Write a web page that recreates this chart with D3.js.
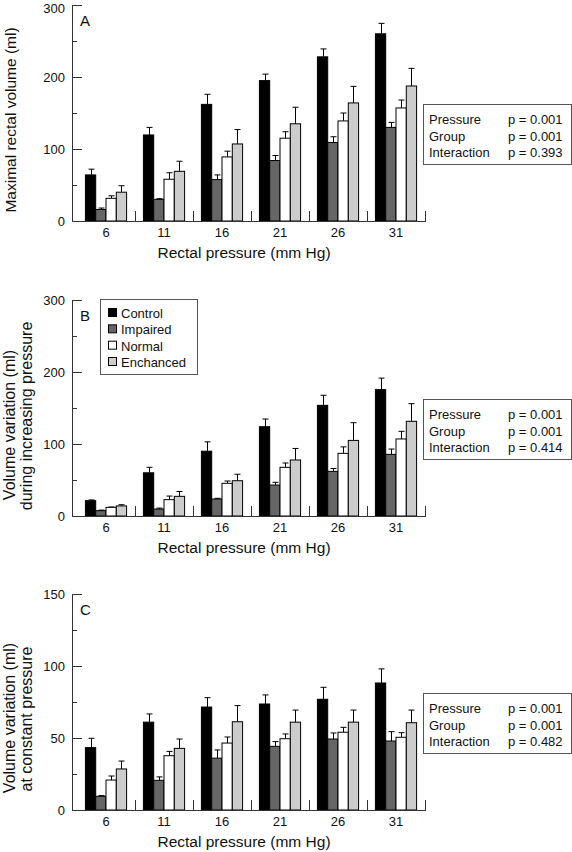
<!DOCTYPE html>
<html>
<head>
<meta charset="utf-8">
<script src="https://cdn.jsdelivr.net/npm/d3@7/dist/d3.min.js"></script>
<style>
  html, body { margin: 0; padding: 0; background: #fff; }
  svg { display: block; font-family: "Liberation Sans", Arial, Helvetica, sans-serif; }
</style>
</head>
<body>
<svg id="chart" width="572" height="852"></svg>
<script>
// ---------- DATA ----------
const categories = ["6", "11", "16", "21", "26", "31"];
const groups = ["Control", "Impaired", "Normal", "Enchanced"];
const xAxisTitle = "Rectal pressure (mm Hg)";

// Panel A: maximal rectal volume (ml) — means per group (rows) across pressures
const aMeans = [
  [64, 119.5, 162, 195, 228, 260],
  [16, 30, 57.5, 84, 109, 130],
  [31.5, 58, 89, 115, 139, 157],
  [40, 69, 107, 135, 164, 187.5]
];
const aErrors = [
  [8, 10.5, 14, 9, 11, 14.5],
  [2, 1, 6.5, 7, 8, 7],
  [3.5, 9, 8, 9, 11, 11],
  [9, 14, 20, 23, 23, 24.5]
];
// Panel B: volume variation during increasing pressure (ml)
const bMeans = [
  [21.3, 60, 90, 124, 153.7, 175.5],
  [7.4, 9.7, 23.6, 43, 62, 85.6],
  [12, 22.7, 45.4, 67.6, 87, 107],
  [14, 27.3, 49, 77.8, 105, 131.5]
];
const bErrors = [
  [1, 7.6, 13, 10.7, 14, 16],
  [0.8, 1.3, 1, 3.8, 4, 7.4],
  [0.5, 5, 3.2, 6, 9, 10.6],
  [1.7, 6.7, 9, 16, 24.6, 24.5]
];
// Panel C: volume variation at constant pressure (ml)
const cMeans = [
  [43.3, 61, 71.5, 73.6, 76.9, 88.2],
  [9.5, 20.6, 36, 44.2, 49.3, 47.9],
  [20.8, 37.7, 46.5, 49.5, 54, 50.5],
  [28.5, 42.8, 61.3, 61, 61, 60.6]
];
const cErrors = [
  [6.5, 5.7, 6.5, 6.3, 8.3, 9.8],
  [0.5, 2.4, 5.7, 3.3, 4.2, 6.5],
  [2.8, 3, 4.2, 3.3, 3.4, 3.2],
  [5.5, 6.5, 11.2, 8.4, 8.4, 8.8]
];

const statLabels = ["Pressure", "Group", "Interaction"];
const aStats = ["p = 0.001", "p = 0.001", "p = 0.393"];
const bStats = ["p = 0.001", "p = 0.001", "p = 0.414"];
const cStats = ["p = 0.001", "p = 0.001", "p = 0.482"];

const aTicks = [0, 50, 100, 150, 200, 250, 300];
const aLabelTicks = [0, 100, 200, 300];
const bTicks = [0, 50, 100, 150, 200, 250, 300];
const bLabelTicks = [0, 100, 200, 300];
const cTicks = [0, 25, 50, 75, 100, 125, 150];
const cLabelTicks = [0, 50, 100, 150];

const aYTitle = ["Maximal rectal volume (ml)"];
const bYTitle = ["Volume variation (ml)", "during increasing pressure"];
const cYTitle = ["Volume variation (ml)", "at constant pressure"];

// ---------- STYLE ----------
const fills = ["#000000", "#666666", "#ffffff", "#cccccc"];

const svg = d3.select("#chart");
const axisX = 72, axisRight = 426;

const x0 = d3.scaleBand().domain(categories).range([77, 425])
  .paddingInner(0.29).paddingOuter(0.145);
const x1 = d3.scaleBand().domain(groups).range([0, x0.bandwidth()]);

function panel(cfg) {
  const y = d3.scaleLinear().domain([0, cfg.max]).range([cfg.bottom, cfg.top]);
  const g = svg.append("g");

  const rows = [];
  cfg.means.forEach((row, gi) => row.forEach((v, ci) => rows.push({
    cat: categories[ci], grp: groups[gi], gi: gi, v: v, e: cfg.errors[gi][ci]
  })));

  // error bars (behind bars)
  const eb = g.append("g").attr("stroke", "#000").attr("stroke-width", 1);
  rows.forEach(d => {
    const cx = Math.round(x0(d.cat) + x1(d.grp) + x1.bandwidth() / 2) + 0.5;
    eb.append("line").attr("x1", cx).attr("x2", cx)
      .attr("y1", y(d.v)).attr("y2", y(d.v + d.e));
    eb.append("line").attr("x1", cx - 3).attr("x2", cx + 3)
      .attr("y1", y(d.v + d.e)).attr("y2", y(d.v + d.e));
  });

  g.append("g").selectAll("rect").data(rows).join("rect")
    .attr("x", d => x0(d.cat) + x1(d.grp))
    .attr("y", d => y(d.v))
    .attr("width", x1.bandwidth())
    .attr("height", d => y(0) - y(d.v))
    .attr("fill", d => fills[d.gi])
    .attr("stroke", "#000")
    .attr("stroke-width", 1);

  // y axis: minor ticks
  g.append("g").attr("transform", `translate(${axisX},0)`)
    .call(d3.axisLeft(y).tickValues(cfg.ticks).tickSizeInner(-5).tickSizeOuter(0).tickFormat(""))
    .call(s => s.select(".domain").attr("stroke", "#333"))
    .call(s => s.selectAll(".tick line").attr("stroke", "#333"));
  // y axis: major labelled ticks
  g.append("g").attr("transform", `translate(${axisX},0)`)
    .call(d3.axisLeft(y).tickValues(cfg.labelTicks).tickSizeInner(-10).tickSizeOuter(0).tickPadding(7))
    .call(s => s.select(".domain").remove())
    .call(s => s.selectAll(".tick line").attr("stroke", "#333"))
    .call(s => s.selectAll(".tick text").attr("font-size", 13).attr("fill", "#111")
      .attr("font-family", "Liberation Sans, Arial, sans-serif")
      .attr("dy", d => d === cfg.max && cfg.top < 10 ? "0.6em" : "0.32em"));

  // x axis
  g.append("line").attr("x1", axisX).attr("x2", axisRight)
    .attr("y1", cfg.bottom + 0.5).attr("y2", cfg.bottom + 0.5).attr("stroke", "#333");
  const gap = x0.step() - x0.bandwidth();
  g.append("g").selectAll("line").data(categories).join("line")
    .attr("x1", d => Math.round(x0(d) + x0.bandwidth() + gap / 2) + 0.5)
    .attr("x2", d => Math.round(x0(d) + x0.bandwidth() + gap / 2) + 0.5)
    .attr("y1", cfg.bottom).attr("y2", cfg.bottom - 10)
    .attr("stroke", "#333");
  g.append("g").attr("transform", `translate(0,${cfg.bottom})`)
    .call(d3.axisBottom(x0).tickSize(0).tickPadding(7))
    .call(s => s.select(".domain").remove())
    .call(s => s.selectAll(".tick text").attr("font-size", 13).attr("fill", "#111")
      .attr("font-family", "Liberation Sans, Arial, sans-serif"));

  g.append("text").attr("x", 244).attr("y", cfg.bottom + 37)
    .attr("text-anchor", "middle").attr("font-size", 15.5).attr("fill", "#111")
    .text(xAxisTitle);

  // panel letter
  g.append("text").attr("x", 80).attr("y", cfg.top + 21)
    .attr("font-size", 15).attr("fill", "#111").text(cfg.letter);

  // y title
  cfg.yTitle.forEach((t, i) => {
    g.append("text")
      .attr("transform", `translate(${cfg.yTitleX[i]},${cfg.yTitleY[i]}) rotate(-90)`)
      .attr("text-anchor", "middle").attr("font-size", cfg.yTitleSize).attr("fill", "#111")
      .text(t);
  });

  // stats box
  const bx = 423, by = cfg.top + 99;
  g.append("rect").attr("x", bx + 0.5).attr("y", by + 0.5).attr("width", 148).attr("height", 60)
    .attr("fill", "#fff").attr("stroke", "#555");
  statLabels.forEach((s, i) => {
    g.append("text").attr("x", 429).attr("y", by + 20 + i * 16.7)
      .attr("font-size", 13).attr("fill", "#111").text(s);
    g.append("text").attr("x", 508).attr("y", by + 20 + i * 16.7)
      .attr("font-size", 13).attr("fill", "#111").text(cfg.stats[i]);
  });

  return g;
}

panel({ letter: "A", top: 5, bottom: 221, max: 300, means: aMeans, errors: aErrors,
  ticks: aTicks, labelTicks: aLabelTicks, stats: aStats, yTitle: aYTitle, yTitleSize: 15.5,
  yTitleX: [16], yTitleY: [120] });
panel({ letter: "B", top: 300, bottom: 516, max: 300, means: bMeans, errors: bErrors,
  ticks: bTicks, labelTicks: bLabelTicks, stats: bStats, yTitle: bYTitle, yTitleSize: 16,
  yTitleX: [15, 32], yTitleY: [425, 416] });
panel({ letter: "C", top: 594, bottom: 810, max: 150, means: cMeans, errors: cErrors,
  ticks: cTicks, labelTicks: cLabelTicks, stats: cStats, yTitle: cYTitle, yTitleSize: 16,
  yTitleX: [15, 32], yTitleY: [718, 719] });

// legend (panel B)
const lg = svg.append("g");
lg.append("rect").attr("x", 100.5).attr("y", 299.5).attr("width", 97).attr("height", 75)
  .attr("fill", "#fff").attr("stroke", "#555");
const ly = d3.scalePoint().domain(groups).range([313, 362]);
groups.forEach((gname, i) => {
  lg.append("rect").attr("x", 108.5).attr("y", ly(gname) - 4.5).attr("width", 8).attr("height", 8)
    .attr("fill", fills[i]).attr("stroke", "#000");
  lg.append("text").attr("x", 121).attr("y", ly(gname) + 5)
    .attr("font-size", 13).attr("fill", "#111").text(gname);
});
</script>
</body>
</html>
